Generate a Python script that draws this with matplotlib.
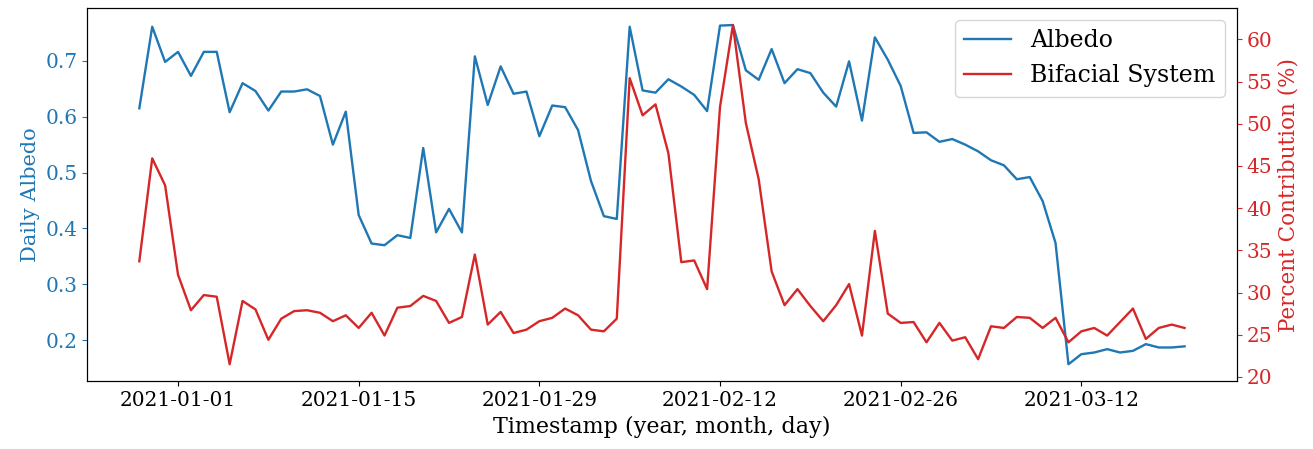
import matplotlib
matplotlib.use('Agg')
import matplotlib.pyplot as plt
import matplotlib.dates as mdates
import pandas as pd

# daily values, starting 2020-12-29
start_date = '2020-12-29'
albedo = [0.615, 0.761, 0.698, 0.716, 0.673, 0.716, 0.716, 0.608, 0.660, 0.646,
          0.611, 0.645, 0.645, 0.649, 0.637, 0.550, 0.609, 0.424, 0.373, 0.370,
          0.388, 0.383, 0.544, 0.393, 0.435, 0.393, 0.708, 0.621, 0.690, 0.641,
          0.645, 0.565, 0.620, 0.617, 0.576, 0.485, 0.422, 0.417, 0.761, 0.647,
          0.643, 0.667, 0.654, 0.639, 0.610, 0.763, 0.764, 0.683, 0.666, 0.721,
          0.660, 0.685, 0.678, 0.643, 0.618, 0.699, 0.593, 0.742, 0.702, 0.655,
          0.571, 0.572, 0.555, 0.560, 0.550, 0.538, 0.522, 0.513, 0.488, 0.492,
          0.449, 0.374, 0.157, 0.175, 0.178, 0.184, 0.178, 0.181, 0.193, 0.187,
          0.187, 0.189]
bifacial = [33.7, 45.9, 42.7, 32.1, 27.9, 29.7, 29.5, 21.5, 29.0, 28.0,
            24.4, 26.9, 27.8, 27.9, 27.6, 26.6, 27.3, 25.8, 27.6, 24.9,
            28.2, 28.4, 29.6, 29.0, 26.4, 27.1, 34.5, 26.2, 27.7, 25.2,
            25.6, 26.6, 27.0, 28.1, 27.3, 25.6, 25.4, 26.9, 55.4, 51.0,
            52.3, 46.5, 33.6, 33.8, 30.4, 52.0, 61.7, 50.1, 43.4, 32.5,
            28.5, 30.4, 28.4, 26.6, 28.5, 31.0, 24.9, 37.3, 27.5, 26.4,
            26.5, 24.1, 26.4, 24.3, 24.7, 22.1, 26.0, 25.8, 27.1, 27.0,
            25.8, 27.0, 24.1, 25.4, 25.8, 24.9, 26.5, 28.1, 24.5, 25.8,
            26.2, 25.8]

dates = pd.date_range(start_date, periods=len(albedo), freq='D')
tick_dates = pd.date_range('2021-01-01', periods=6, freq='14D')

plt.rcParams['font.family'] = ['DejaVu Serif']

blue = '#1f77b4'
red = '#d62728'

fig, ax1 = plt.subplots(figsize=(13.13, 4.49), dpi=100)
fig.subplots_adjust(left=0.0663, right=0.942, top=0.982, bottom=0.151)

l1, = ax1.plot(dates, albedo, color=blue, lw=1.7, label='Albedo')
ax1.set_ylabel('Daily Albedo', color=blue, fontsize=15)
ax1.tick_params(axis='y', labelcolor=blue, color=blue, labelsize=14.5)
ax1.tick_params(axis='x', labelsize=14.5)
ax1.set_xlabel('Timestamp (year, month, day)', fontsize=16)
ax1.set_xticks(tick_dates)
ax1.xaxis.set_major_formatter(mdates.DateFormatter('%Y-%m-%d'))

ax2 = ax1.twinx()
l2, = ax2.plot(dates, bifacial, color=red, lw=1.7, label='Bifacial System')
ax2.set_ylabel('Percent Contribution (%)', color=red, fontsize=15.5)
ax2.tick_params(axis='y', labelcolor=red, color=red, labelsize=14.5)

ax2.legend(handles=[l1, l2], loc='upper right', fontsize=17)

plt.savefig('out.png', dpi=100, facecolor='white')
